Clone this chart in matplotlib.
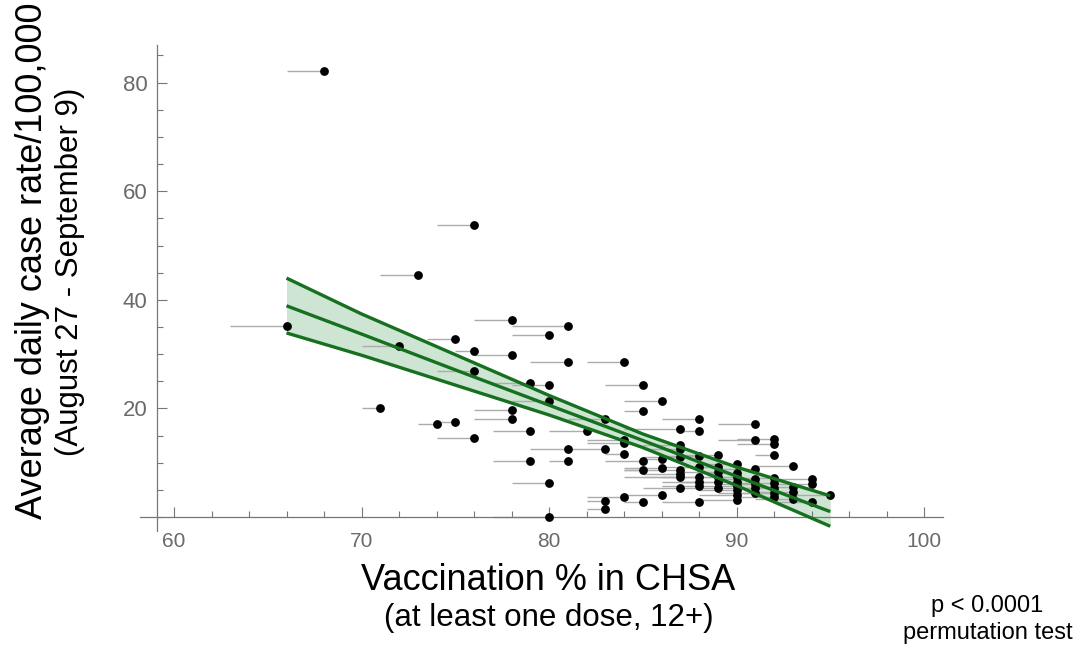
import numpy as np
import matplotlib
matplotlib.use("Agg")
import matplotlib.pyplot as plt
from matplotlib.ticker import MultipleLocator

plt.rcParams['font.family'] = ['Liberation Sans', 'DejaVu Sans']

# vaccination % (point), start of the horizontal line, case rate
vacc = [66, 68, 71, 72, 73, 74, 75, 75, 76, 76, 76, 76, 78, 78, 78, 78, 79, 79, 79,
        80, 80, 80, 80, 80, 81, 81, 81, 81, 82, 83, 83, 83, 83, 84, 84, 84, 84, 84,
        85, 85, 85, 85, 85, 86, 86, 86, 86, 87, 87, 87, 87, 87, 87, 87, 87,
        88, 88, 88, 88, 88, 88, 88, 88, 89, 89, 89, 89, 89, 89,
        90, 90, 90, 90, 90, 90, 90, 90, 91, 91, 91, 91, 91, 91, 91,
        92, 92, 92, 92, 92, 92, 92, 92, 93, 93, 93, 93, 94, 94, 94, 95]
vacc_start = [63, 66, 70, 70, 71, 73, 74, 73.5, 74, 75, 74, 74, 76, 76, 76, 76, 77, 77, 77,
              78, 78, 78, 78, 77, 78, 79, 79, 80, 80, 81, 81, 82, 82, 82, 82, 82, 83, 82,
              83, 84, 83, 84, 84, 84, 85, 84, 84, 84, 85, 85, 85, 84, 85, 84, 85,
              86, 87, 86, 86, 85, 86, 86, 86, 87, 87, 87, 86, 87, 87,
              88, 88, 88, 87, 88, 88, 88, 88, 89, 89, 89, 89, 89, 89, 89,
              90, 90, 91, 90, 90, 90, 90, 90, 91, 91, 91, 91, 92, 92, 92, 93]
rate = [35.2, 82.1, 20.1, 31.5, 44.6, 17.1, 17.5, 32.7, 53.8, 30.6, 26.9, 14.6, 36.2, 29.8, 19.7, 18.0, 24.7, 15.8, 10.3,
        33.6, 24.3, 21.4, 6.2, 0.0, 35.2, 28.5, 12.5, 10.3, 15.8, 18.0, 12.5, 2.9, 1.5, 28.5, 14.2, 13.7, 11.6, 3.7,
        24.3, 19.6, 10.4, 8.7, 2.7, 21.4, 10.6, 9.1, 4.1, 16.3, 13.3, 12.5, 11.0, 8.7, 7.9, 7.3, 5.3,
        18.0, 15.9, 11.3, 9.3, 7.3, 6.5, 5.8, 2.8, 11.4, 9.3, 8.3, 7.3, 6.5, 5.3,
        9.7, 8.1, 7.3, 6.5, 5.7, 4.9, 4.0, 3.1, 17.1, 14.1, 8.8, 7.0, 6.1, 5.3, 4.4,
        14.3, 13.4, 11.5, 7.1, 6.3, 5.4, 4.5, 3.7, 9.4, 5.5, 4.7, 3.3, 7.0, 6.0, 2.8, 4.1]

# fitted line and confidence band
fit_x = [66, 70, 75, 80, 85, 90, 95]
fit_mid = [38.9, 33.7, 27.1, 20.6, 14.1, 7.5, 1.0]
fit_upper = [44.0, 37.4, 29.9, 22.4, 15.3, 9.2, 3.9]
fit_lower = [33.9, 29.8, 24.3, 18.8, 12.8, 5.8, -1.7]

W, H = 1086, 649
fig = plt.figure(figsize=(W / 100, H / 100), dpi=100)
ax = fig.add_axes([140.25 / W, 1 - 530.6 / H, 802.5 / W, 486.0 / H])
ax.set_xlim(58.2, 101)
ax.set_ylim(-2.5, 87)

green = '#16701f'
ax.fill_between(fit_x, fit_lower, fit_upper, color='#cde5d2', lw=0, zorder=1)
for ys in (fit_upper, fit_mid, fit_lower):
    ax.plot(fit_x, ys, color=green, lw=2.4, zorder=4, solid_capstyle='butt')

ax.hlines(rate, vacc_start, vacc, color='#acacac', lw=1.0, zorder=2)
ax.scatter(vacc, rate, s=40, color='black', zorder=3, linewidths=0)

# mathematica-like axes crossing near the origin
for s in ('top', 'right'):
    ax.spines[s].set_visible(False)
ax.spines['left'].set_position(('data', 59.1))
ax.spines['bottom'].set_position(('data', 0))
for s in ('left', 'bottom'):
    ax.spines[s].set_color('#777777')
    ax.spines[s].set_linewidth(0.9)

ax.xaxis.set_major_locator(MultipleLocator(10))
ax.xaxis.set_minor_locator(MultipleLocator(2))
ax.set_yticks([20, 40, 60, 80])
ax.yaxis.set_minor_locator(MultipleLocator(5))
ax.tick_params(which='both', direction='in', color='#777777', width=0.8,
               labelcolor='#6a6a6a')
ax.tick_params(which='major', length=7)
ax.tick_params(which='minor', length=4)
ax.tick_params(axis='x', which='major', labelsize=15, pad=11)
ax.tick_params(axis='y', which='major', labelsize=16, pad=7)

fig.text(33 / W, 1 - 261 / H, 'Average daily case rate/100,000', rotation=90,
         ha='center', va='center', fontsize=26)
fig.text(70 / W, 1 - 272 / H, '(August 27 - September 9)', rotation=90,
         ha='center', va='center', fontsize=22.5)
fig.text(548 / W, 1 - 580 / H, 'Vaccination % in CHSA', ha='center', va='center', fontsize=26)
fig.text(549 / W, 1 - 618 / H, '(at least one dose, 12+)', ha='center', va='center', fontsize=22.5)
fig.text(987 / W, 1 - 606 / H, 'p < 0.0001', ha='center', va='center', fontsize=17)
fig.text(988 / W, 1 - 633 / H, 'permutation test', ha='center', va='center', fontsize=17)

fig.savefig('out.png', dpi=100)
